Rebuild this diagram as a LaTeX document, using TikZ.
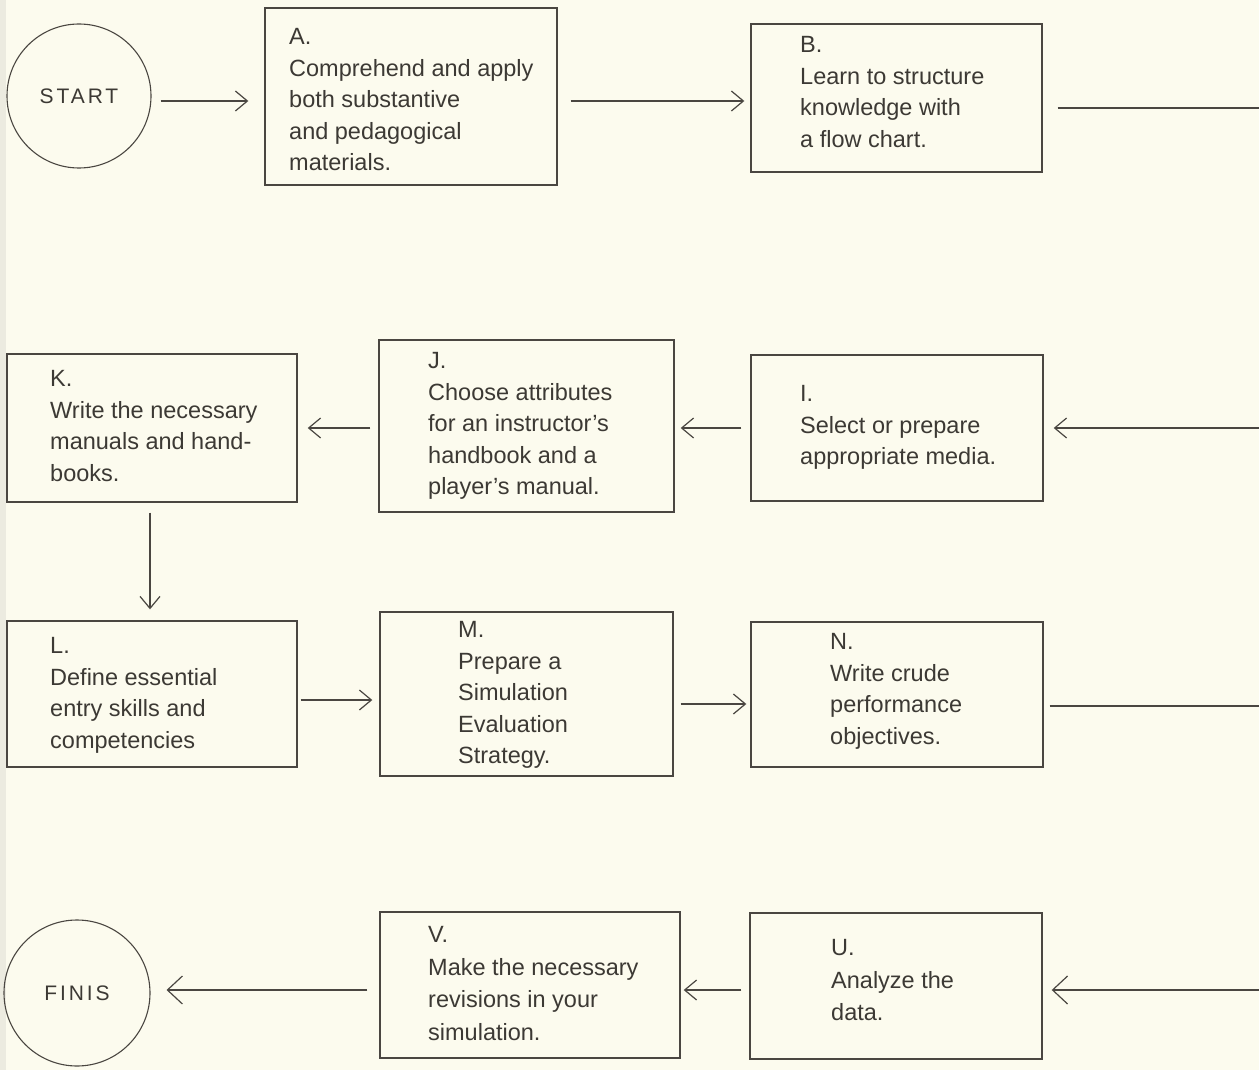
\documentclass[tikz,border=0pt]{standalone}
\usepackage{fontspec}
\setmainfont{Liberation Sans}
\usetikzlibrary{arrows.meta}
\definecolor{paper}{HTML}{FCFBEE}
\definecolor{edge}{HTML}{ECEBE0}
\definecolor{ink}{HTML}{3C3934}
\definecolor{rule}{HTML}{4A4641}
\begin{document}
\begin{tikzpicture}[x=1pt,y=-1pt,
  stepbox/.style={draw=rule, line width=1.4pt, inner sep=0pt},
  txt/.style={inner sep=0pt, anchor=north west, align=left, text=ink,
    font=\fontsize{23.5}{31.5}\selectfont},
  txtwide/.style={txt, font=\fontsize{23.5}{32.5}\selectfont},
  term/.style={draw=rule, line width=1.1pt, circle, inner sep=0pt, text=ink,
    font=\fontsize{21}{25}\selectfont\addfontfeature{LetterSpace=14}},
  flow/.style={draw=rule, line width=1.2pt},
  arr/.style={flow, -{Straight Barb[length=12pt,width=20pt]}},
  bigarr/.style={flow, -{Straight Barb[length=15pt,width=28pt]}}]

% page
\useasboundingbox (0,0) rectangle (1259,1070);
\fill[paper] (0,0) rectangle (1259,1070);
\fill[edge] (0,0) rectangle (6,1070);

% terminals
\node[term, minimum size=144pt] (S) at (79,96) {START};
\node[term, minimum size=146pt] (F) at (77,993) {FINIS};

% step boxes
\node[stepbox, minimum width=292pt, minimum height=177pt] (A) at (411,96.5) {};
\node[stepbox, minimum width=291pt, minimum height=148pt] (B) at (896.5,98) {};
\node[stepbox, minimum width=290pt, minimum height=148pt] (K) at (152,428) {};
\node[stepbox, minimum width=295pt, minimum height=172pt] (J) at (526.5,426) {};
\node[stepbox, minimum width=292pt, minimum height=146pt] (I) at (897,428) {};
\node[stepbox, minimum width=290pt, minimum height=146pt] (L) at (152,694) {};
\node[stepbox, minimum width=293pt, minimum height=164pt] (M) at (526.5,694) {};
\node[stepbox, minimum width=292pt, minimum height=145pt] (N) at (897,694.5) {};
\node[stepbox, minimum width=300pt, minimum height=146pt] (V) at (530,985) {};
\node[stepbox, minimum width=292pt, minimum height=146pt] (U) at (896,986) {};

% box texts
\node[txt] (At) at (289,28.2) {A.\\Comprehend and apply\\both substantive\\and pedagogical\\materials.};
\node[txt] (Bt) at (800,36.2) {B.\\Learn to structure\\knowledge with\\a flow chart.};
\node[txt] (Kt) at (50,370.2) {K.\\Write the necessary\\manuals and hand-\\books.};
\node[txt] (Jt) at (428,352.2) {J.\\Choose attributes\\for an instructor’s\\handbook and a\\player’s manual.};
\node[txt] (It) at (800,385.2) {I.\\Select or prepare\\appropriate media.};
\node[txt] (Lt) at (50,637.2) {L.\\Define essential\\entry skills and\\competencies};
\node[txt] (Mt) at (458,621.2) {M.\\Prepare a\\Simulation\\Evaluation\\Strategy.};
\node[txt] (Nt) at (830,633.2) {N.\\Write crude\\performance\\objectives.};
\node[txtwide] (Vt) at (428,926.2) {V.\\Make the necessary\\revisions in your\\simulation.};
\node[txtwide] (Ut) at (831,939.2) {U.\\Analyze the\\data.};

% loose ends at the right margin
\coordinate (rB) at (1259,108);
\coordinate (rI) at (1259,428);
\coordinate (rN) at (1259,706);
\coordinate (rU) at (1259,990);

% row 1
\draw[arr] ([xshift=9pt,yshift=-5pt]S.east) -- ([xshift=-16pt,yshift=-4.5pt]A.west);
\draw[arr] ([xshift=13pt,yshift=-4.5pt]A.east) -- ([xshift=-6pt,yshift=-3pt]B.west);
\draw[flow] ([xshift=15pt,yshift=-10pt]B.east) -- (rB);

% row 2
\draw[arr] (rI) -- ([xshift=10pt]I.east);
\draw[arr] ([xshift=-9pt]I.west) -- ([xshift=6pt,yshift=-2pt]J.east);
\draw[arr] ([xshift=-8pt,yshift=-2pt]J.west) -- ([xshift=10pt]K.east);
\draw[arr] ([xshift=-2pt,yshift=-10pt]K.south) -- ([xshift=-2pt,yshift=11pt]L.north);

% row 3
\draw[arr] ([xshift=3pt,yshift=-6pt]L.east) -- ([xshift=-7pt,yshift=-6pt]M.west);
\draw[arr] ([xshift=7pt,yshift=-10pt]M.east) -- ([xshift=-4pt,yshift=-9.5pt]N.west);
\draw[flow] ([xshift=6pt,yshift=-11.5pt]N.east) -- (rN);

% row 4
\draw[bigarr] (rU) -- ([xshift=9pt,yshift=-4pt]U.east);
\draw[arr] ([xshift=-8pt,yshift=-4pt]U.west) -- ([xshift=3pt,yshift=-5pt]V.east);
\draw[bigarr] ([xshift=-12pt,yshift=-5pt]V.west) -- ([xshift=16pt,yshift=3pt]F.east);
\end{tikzpicture}
\end{document}
